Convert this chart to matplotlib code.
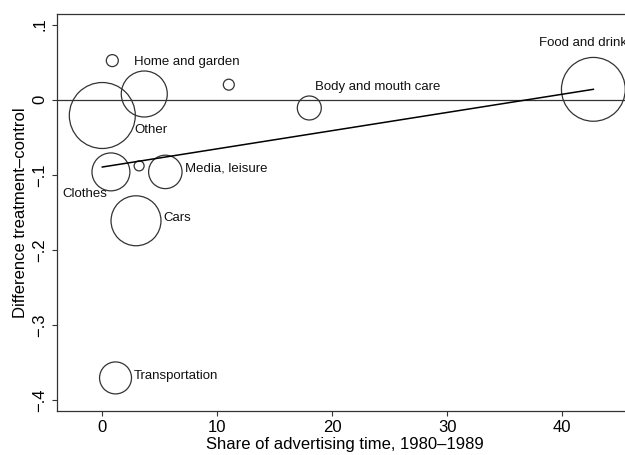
import matplotlib
matplotlib.use('Agg')
import matplotlib.pyplot as plt
import numpy as np

plt.rcParams['font.family'] = ['Liberation Sans', 'DejaVu Sans']

# Advertising share (x) vs. treatment-control difference (y), bubble = weight
categories = ['', 'Home and garden', '', 'Other', 'Body and mouth care',
              'Food and drink', 'Clothes', '', 'Media, leisure', 'Cars',
              'Transportation']
share = [0.87, 3.65, 11.0, 0.0, 18.0, 42.7, 0.75, 3.2, 5.48, 2.93, 1.15]
diff = [0.052, 0.0076, 0.020, -0.021, -0.011, 0.0138, -0.096, -0.088,
        -0.096, -0.161, -0.370]
weight = [0.36, 5.3, 0.30, 10.9, 1.44, 10.2, 3.6, 0.25, 2.8, 6.25, 2.56]

# weighted linear fit shown in the figure
fit_intercept = -0.0895
fit_slope = 0.00242

xticks = [0, 10, 20, 30, 40]
yticks = [-0.4, -0.3, -0.2, -0.1, 0, 0.1]
yticklabels = ['\u2212.4', '\u2212.3', '\u2212.2', '\u2212.1', '0', '.1']

# label offsets in pixels from bubble centre
label_offsets = {
    'Home and garden': (-10, 32),
    'Other': (32, -14),
    'Body and mouth care': (6, 21),
    'Food and drink': (-54, 46),
    'Clothes': (-49, -22),
    'Media, leisure': (20, 3),
    'Cars': (27, 3),
    'Transportation': (18, 2),
}

edge = '#333333'

fig = plt.figure(figsize=(6.25, 4.55), dpi=100)
ax = fig.add_axes([57 / 625, 44 / 455, 575 / 625, 397 / 455])

ax.axhline(0, color=edge, lw=0.9, zorder=1)
ax.scatter(share, diff, s=np.array(weight) * 207, facecolors='none',
           edgecolors=edge, linewidths=0.9, zorder=2)

xfit = np.array([min(share), max(share)])
ax.plot(xfit, fit_intercept + fit_slope * xfit, color='black', lw=1.1, zorder=3)

for name, x, y in zip(categories, share, diff):
    if not name:
        continue
    dx, dy = label_offsets[name]
    ax.annotate(name, (x, y), xytext=(dx, dy), textcoords='offset pixels',
                ha='left', va='center', fontsize=9.5, color='#111111')

ax.set_xlim(-3.94, 46.06)
ax.set_ylim(-0.414, 0.114)
ax.set_xticks(xticks)
ax.set_yticks(yticks)
ax.set_yticklabels(yticklabels, rotation=90, va='center')
ax.tick_params(direction='out', length=3.8, width=0.8, color=edge,
               labelsize=12, pad=3)
ax.set_xlabel('Share of advertising time, 1980\u20131989', fontsize=12,
              labelpad=1)
ax.set_ylabel('Difference treatment\u2013control', fontsize=12, labelpad=3)

for side in ['left', 'bottom', 'top']:
    ax.spines[side].set_color(edge)
    ax.spines[side].set_linewidth(0.9)
ax.spines['right'].set_visible(False)

plt.savefig('out.png', dpi=100)
